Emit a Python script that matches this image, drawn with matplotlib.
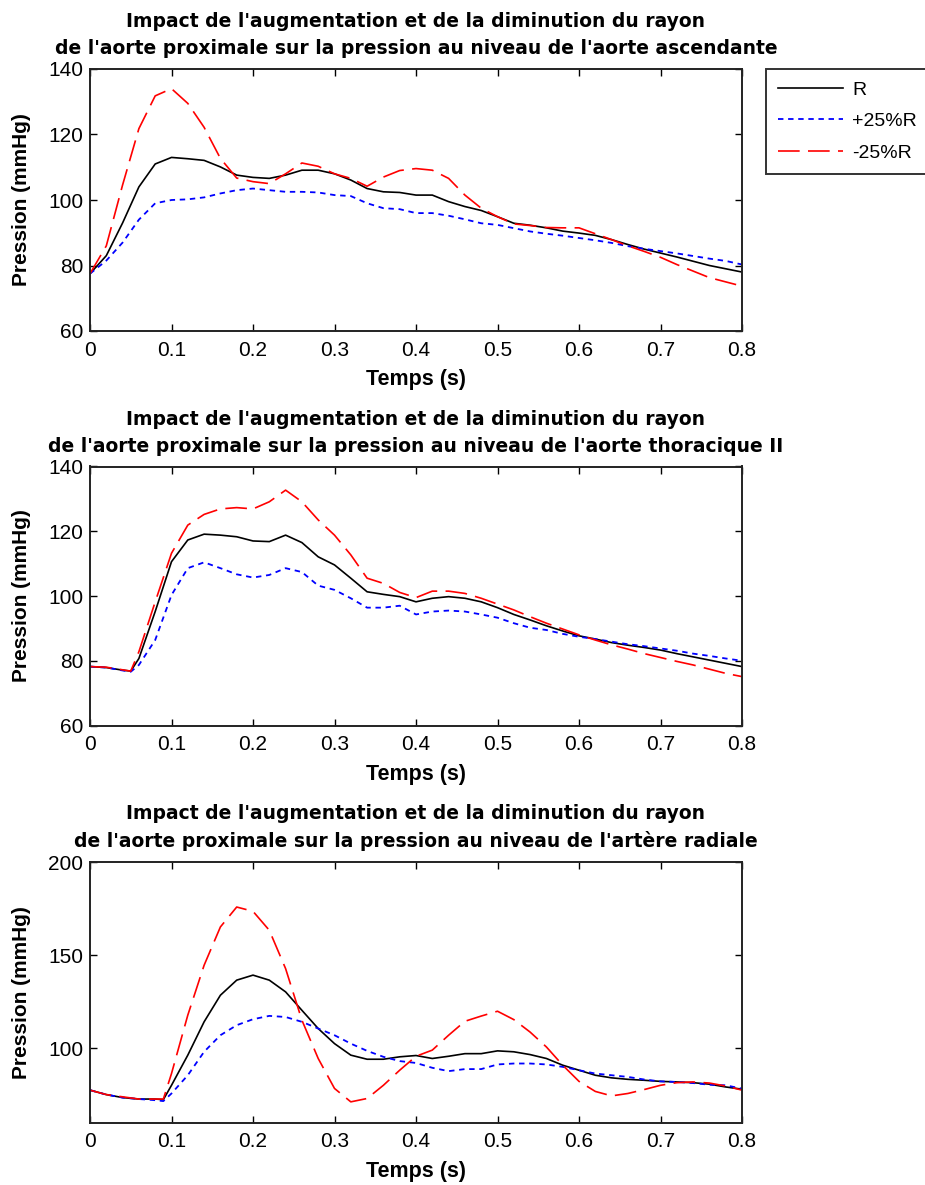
import matplotlib
matplotlib.use("Agg")
import matplotlib.pyplot as plt

plt.rcParams['font.family'] = ['Liberation Sans', 'DejaVu Sans']

# ---------------- data ----------------
titles = [
    "Impact de l'augmentation et de la diminution du rayon\nde l'aorte proximale sur la pression au niveau de l'aorte ascendante",
    "Impact de l'augmentation et de la diminution du rayon\nde l'aorte proximale sur la pression au niveau de l'aorte thoracique II",
    "Impact de l'augmentation et de la diminution du rayon\nde l'aorte proximale sur la pression au niveau de l'artère radiale",
]
legend_labels = ["R", "+25%R", "-25%R"]
xlabel = "Temps (s)"
ylabel = "Pression (mmHg)"

# Plot 1 : aorte ascendante
t1 = [0, .02, .04, .06, .08, .10, .12, .14, .16, .18, .20, .22, .24, .26, .28, .30,
      .32, .34, .36, .38, .40, .42, .44, .46, .48, .50, .52, .54, .56, .58, .60, .62,
      .64, .66, .68, .70, .72, .74, .76, .78, .80]
R1 = [77.5, 83, 93, 104, 111, 113, 112.6, 112.1, 110.1, 107.6, 106.9, 106.6, 107.6,
      109.1, 109.1, 108, 106.1, 103.5, 102.5, 102.3, 101.5, 101.5, 99.5, 98, 96.8,
      94.9, 92.9, 92.3, 91.5, 90.5, 89.9, 89.2, 87.9, 86.4, 85, 83.8, 82.6, 81.3, 80,
      79, 78]
P1 = [77.5, 81.5, 87, 94, 99, 100, 100.2, 100.8, 102, 103, 103.5, 103, 102.5, 102.5,
      102.3, 101.5, 101.2, 99, 97.5, 97.2, 96, 96, 95.2, 94.1, 92.9, 92.4, 91.4, 90.4,
      89.7, 89.1, 88.4, 87.7, 86.9, 85.9, 85.1, 84.4, 83.7, 82.9, 82.1, 81.4, 80.3]
M1 = [77.5, 86, 104.6, 121.8, 131.8, 134, 129.5, 122.2, 112.7, 106.7, 105.6, 105, 108,
      111.3, 110.3, 108, 106.6, 104.2, 107, 109, 109.6, 109.1, 106.6, 101.5, 97.5,
      94.9, 92.7, 92.2, 91.6, 91.5, 91.5, 89.7, 87.9, 86, 84.3, 82.5, 80.3, 78.3,
      76.3, 75, 73.7]

# Plot 2 : aorte thoracique II
t2 = [0, .02, .04, .05, .06, .08, .10, .12, .14, .16, .18, .20, .22, .24, .26, .28,
      .30, .32, .34, .36, .38, .40, .42, .44, .46, .48, .50, .52, .54, .56, .58, .60,
      .62, .64, .66, .68, .70, .72, .74, .76, .78, .80]
R2 = [78.2, 77.9, 77.1, 76.8, 80.7, 95.2, 110.6, 117.3, 119.1, 118.8, 118.3, 117,
      116.8, 118.8, 116.5, 112.1, 109.6, 105.5, 101.3, 100.5, 99.8, 98.2, 99.3, 99.8,
      99.3, 98.2, 96.4, 94.3, 92.6, 90.8, 89.2, 87.7, 86.7, 85.6, 84.8, 84.1, 83.3,
      82.2, 81.2, 80.2, 79.2, 78.2]
P2 = [78.2, 77.9, 77, 76.6, 78.7, 86.4, 100.3, 108.6, 110.4, 108.6, 106.7, 105.7,
      106.5, 108.6, 107.4, 103.2, 101.9, 99.3, 96.4, 96.4, 97, 94.3, 95.2, 95.5, 95.2,
      94.3, 93.3, 91.6, 90.2, 89.5, 88.3, 87.4, 86.7, 85.9, 85.1, 84.5, 83.8, 83.1,
      82.2, 81.5, 80.7, 80]
M2 = [78.2, 78, 77.2, 76.8, 82.8, 98.2, 113.2, 121.9, 125.2, 126.9, 127.3, 126.9,
      129.1, 132.7, 129.1, 123.5, 118.8, 112.7, 105.5, 103.9, 101.1, 99.5, 101.5,
      101.5, 100.8, 99.3, 97.5, 95.7, 93.6, 91.6, 89.8, 88, 86.4, 84.9, 83.6, 82.2,
      81, 79.8, 78.7, 77.4, 76.1, 75.1]

# Plot 3 : artère radiale
t3 = [0, .02, .04, .06, .08, .09, .10, .12, .14, .16, .18, .20, .22, .24, .26, .28,
      .30, .32, .34, .36, .38, .40, .42, .44, .46, .48, .50, .52, .54, .56, .58, .60,
      .62, .64, .66, .68, .70, .72, .74, .76, .78, .80]
R3 = [77.4, 75, 73.4, 72.6, 72.6, 72.3, 80, 96.2, 114.1, 128.4, 136.5, 139.2, 136.5,
      130.2, 120.3, 110.5, 102.4, 96.2, 94, 94, 95.3, 96, 94.4, 95.6, 97, 97, 98.5,
      98, 96.5, 94.4, 90.8, 88.1, 85.4, 84, 83.2, 82.7, 82.1, 81.8, 81.4, 80.6, 79.1,
      77.9]
P3 = [77.4, 75, 73.4, 72.6, 72, 71.5, 75.6, 85.4, 98, 106.9, 112.3, 115.5, 117.3,
      116.7, 114.1, 110.5, 106.9, 102.4, 98.5, 95.3, 93, 92, 89.4, 87.6, 88.7, 88.7,
      91.2, 91.7, 91.7, 91.2, 89.9, 88.1, 86.3, 85.4, 84.5, 83.1, 82.1, 81.8, 81.2,
      80.3, 80, 78.2]
M3 = [77.4, 75, 73.8, 72.6, 72.6, 72.6, 86.3, 117.7, 144.5, 165.1, 175.8, 173.5,
      163.3, 142.7, 115, 94.4, 78.3, 71.1, 72.9, 80, 88.1, 95.6, 98.9, 106.9, 114.4,
      117.2, 119.8, 115.3, 108.6, 100.6, 90.8, 82.1, 76.7, 74.3, 75.6, 77.7, 80, 81.4,
      81.8, 81.2, 79.6, 77.4]

xticks = [0, 0.1, 0.2, 0.3, 0.4, 0.5, 0.6, 0.7, 0.8]
xticklabels = ["0", "0.1", "0.2", "0.3", "0.4", "0.5", "0.6", "0.7", "0.8"]
ylims = [(60, 140), (60, 140), (60, 200)]
yticks = [[60, 80, 100, 120, 140], [60, 80, 100, 120, 140], [100, 150, 200]]

panels = [(t1, R1, P1, M1), (t2, R2, P2, M2), (t3, R3, P3, M3)]

# ---------------- figure ----------------
W, H = 925, 1185
fig = plt.figure(figsize=(W / 100, H / 100), dpi=100)

def frac(x0, y0, x1, y1):
    return [x0 / W, 1 - y1 / H, (x1 - x0) / W, (y1 - y0) / H]

rects = [frac(90, 69, 742, 331), frac(90, 466.5, 742, 725.5), frac(90, 862, 742, 1122.5)]

for i, (rect, (t, r, p, m)) in enumerate(zip(rects, panels)):
    ax = fig.add_axes(rect)
    l1, = ax.plot(t, r, color='black', lw=1.2, linestyle='-')
    l2, = ax.plot(t, p, color='blue', lw=1.3, linestyle=(0, (3.0, 2.6)))
    l3, = ax.plot(t, m, color='red', lw=1.2, linestyle=(0, (13, 5)))
    ax.set_xlim(0, 0.8)
    ax.set_ylim(*ylims[i])
    ax.set_xticks(xticks)
    ax.set_xticklabels(xticklabels)
    ax.set_yticks(yticks[i])
    ax.tick_params(direction='in', top=True, right=True, length=5, width=1,
                   labelsize=15, pad=5)
    ax.tick_params(axis='x', pad=7)
    for s in ax.spines.values():
        s.set_linewidth(1.4)
        s.set_color('#222222')
    ax.set_title(titles[i], fontsize=13.5, fontweight='bold', pad=10.5,
                 linespacing=1.55, family='DejaVu Sans')
    ax.set_xlabel(xlabel, fontsize=15.5, fontweight='bold', labelpad=7)
    ax.set_ylabel(ylabel, fontsize=15, fontweight='bold')
    ax.yaxis.set_label_coords(-0.09, 0.5)
    if i == 0:
        leg = ax.legend([l1, l2, l3], legend_labels, loc='upper left',
                        bbox_to_anchor=(1.0368, 1.0), fontsize=14, frameon=True,
                        fancybox=False, handlelength=3.35, borderpad=0.62,
                        labelspacing=0.72, handletextpad=0.45, borderaxespad=0)
        leg.get_frame().set_edgecolor('black')
        leg.get_frame().set_linewidth(1.4)

fig.savefig("out.png", dpi=100)
